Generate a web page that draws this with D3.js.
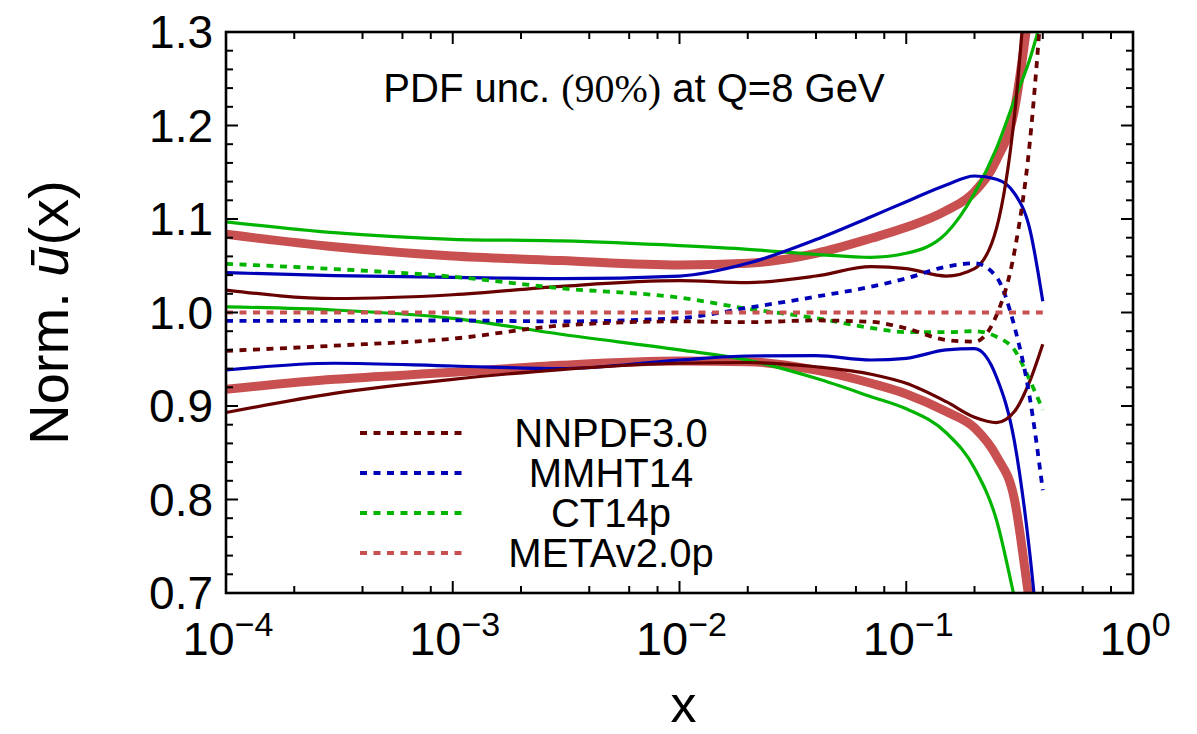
<!DOCTYPE html>
<html>
<head>
<meta charset="utf-8">
<script src="https://cdn.jsdelivr.net/npm/d3@7"></script>
<style>
    body { margin: 0; background: #fff; }
    text { font-family: "Liberation Sans", Arial, Helvetica, sans-serif; fill: #000; }
</style>
</head>
<body>
<div id="chart"></div>
<script>
// x grid shared by every curve
const xGrid = [1e-4, 3e-4, 1e-3, 3e-3, 0.01, 0.02, 0.04, 0.07, 0.1, 0.15, 0.2, 0.25, 0.3, 0.35, 0.4];

// NNPDF3.0
const nnpdfUpper   = [1.024, 1.015, 1.019, 1.028, 1.034, 1.032, 1.039, 1.049, 1.047, 1.039, 1.047, 1.090, 1.210, 1.40, 1.55];
const nnpdfCentral = [0.959, 0.9645, 0.972, 0.986, 0.9905, 0.9896, 0.9915, 0.990, 0.983, 0.9706, 0.9688, 0.997, 1.065, 1.18, 1.35];
const nnpdfLower   = [0.893, 0.9135, 0.9285, 0.939, 0.9457, 0.9465, 0.942, 0.934, 0.9243, 0.9046, 0.8879, 0.8822, 0.894, 0.926, 0.966];

// MMHT14
const mmhtUpper   = [1.0426, 1.0394, 1.0376, 1.0362, 1.039, 1.0526, 1.078, 1.1025, 1.1185, 1.1364, 1.146, 1.1425, 1.1275, 1.09, 1.012];
const mmhtCentral = [0.991, 0.991, 0.9915, 0.9905, 0.994, 1.0050, 1.017, 1.0276, 1.0365, 1.049, 1.0526, 1.038, 0.985, 0.91, 0.81];
const mmhtLower   = [0.9385, 0.9457, 0.9428, 0.940, 0.9492, 0.9535, 0.9538, 0.9492, 0.951, 0.960, 0.9613, 0.931, 0.862, 0.744, 0.60];

// CT14p
const ct14Upper   = [1.097, 1.0854, 1.0783, 1.0765, 1.0715, 1.0676, 1.0622, 1.059, 1.0633, 1.0847, 1.1275, 1.1756, 1.2273, 1.2704, 1.319];
const ct14Central = [1.052, 1.0465, 1.0383, 1.0259, 1.0159, 1.004, 0.994, 0.9835, 0.979, 0.979, 0.980, 0.974, 0.960, 0.928, 0.896];
const ct14Lower   = [1.006, 1.0027, 0.9938, 0.9767, 0.960, 0.9492, 0.9296, 0.910, 0.897, 0.8714, 0.8334, 0.7781, 0.695, 0.62, 0.55];

// METAv2.0p
const metaUpper   = [1.0836, 1.0704, 1.0604, 1.0555, 1.0508, 1.0526, 1.0633, 1.0794, 1.0911, 1.1089, 1.1292, 1.1631, 1.2166, 1.33, 1.45];
const metaCentral = [1, 1, 1, 1, 1, 1, 1, 1, 1, 1, 1, 1, 1, 1, 1];
const metaLower   = [0.918, 0.9285, 0.936, 0.9435, 0.9481, 0.9474, 0.9383, 0.9243, 0.9129, 0.894, 0.8767, 0.8463, 0.800, 0.69, 0.60];

const legendNames = ["NNPDF3.0", "MMHT14", "CT14p", "METAv2.0p"];
const xTickExps = [-4, -3, -2, -1, 0];
const yTickValues = [0.7, 0.8, 0.9, 1.0, 1.1, 1.2, 1.3];

const colors = {
    nnpdf: "#680000",
    mmht: "#0000b8",
    ct14: "#00b400",
    meta: "#c85050"
};

// Set dimensions
const width = 1197;
const height = 734;
const margin = { top: 32, right: 64, bottom: 141, left: 226 };

const svg = d3.select("#chart")
    .append("svg")
    .attr("width", width)
    .attr("height", height);

svg.append("rect").attr("width", width).attr("height", height).attr("fill", "#fff");

const x = d3.scaleLog()
    .domain([1e-4, 1])
    .range([margin.left, width - margin.right]);

const y = d3.scaleLinear()
    .domain([0.7, 1.3])
    .range([height - margin.bottom, margin.top]);

// Clip curves to the frame
svg.append("clipPath")
    .attr("id", "plot-clip")
    .append("rect")
    .attr("x", x.range()[0])
    .attr("y", y.range()[1])
    .attr("width", x.range()[1] - x.range()[0])
    .attr("height", y.range()[0] - y.range()[1]);

const line = d3.line()
    .x((d, i) => x(xGrid[i]))
    .y(d => y(d))
    .curve(d3.curveMonotoneX);

const plot = svg.append("g").attr("clip-path", "url(#plot-clip)");

// Bands (solid) - META thick first so the others sit on top
const solidCurves = [
    { data: metaUpper, color: colors.meta, w: 9 },
    { data: metaLower, color: colors.meta, w: 9 },
    { data: ct14Upper, color: colors.ct14, w: 3.2 },
    { data: ct14Lower, color: colors.ct14, w: 3.2 },
    { data: mmhtUpper, color: colors.mmht, w: 3.2 },
    { data: mmhtLower, color: colors.mmht, w: 3.2 },
    { data: nnpdfUpper, color: colors.nnpdf, w: 3.2 },
    { data: nnpdfLower, color: colors.nnpdf, w: 3.2 }
];

plot.selectAll(".band")
    .data(solidCurves)
    .enter()
    .append("path")
    .attr("class", "band")
    .attr("d", d => line(d.data))
    .attr("fill", "none")
    .attr("stroke", d => d.color)
    .attr("stroke-width", d => d.w);

// Central values (dashed)
const dashedCurves = [
    { data: ct14Central, color: colors.ct14 },
    { data: mmhtCentral, color: colors.mmht },
    { data: nnpdfCentral, color: colors.nnpdf },
    { data: metaCentral, color: colors.meta }
];

plot.selectAll(".central")
    .data(dashedCurves)
    .enter()
    .append("path")
    .attr("class", "central")
    .attr("d", d => line(d.data))
    .attr("fill", "none")
    .attr("stroke", d => d.color)
    .attr("stroke-width", 3.8)
    .attr("stroke-dasharray", "7,6.5");

// Ticks on all four sides, pointing inward
const x0 = x.range()[0], x1 = x.range()[1];
const y0 = y.range()[0], y1 = y.range()[1];
const ticks = svg.append("g").attr("stroke", "#000").attr("stroke-width", 2);

const xMinor = [];
xTickExps.slice(0, -1).forEach(e => [2, 4, 6, 8].forEach(m => xMinor.push(m * Math.pow(10, e))));
const xMajor = xTickExps.map(e => Math.pow(10, e));

[[xMajor, 12], [xMinor, 7]].forEach(([vals, len]) => {
    vals.forEach(v => {
        ticks.append("line").attr("x1", x(v)).attr("x2", x(v)).attr("y1", y0).attr("y2", y0 - len);
        ticks.append("line").attr("x1", x(v)).attr("x2", x(v)).attr("y1", y1).attr("y2", y1 + len);
    });
});

const yMinor = d3.range(0, 31).map(i => 0.7 + i * 0.02).filter((v, i) => i % 5 !== 0);
[[yTickValues, 12], [yMinor, 7]].forEach(([vals, len]) => {
    vals.forEach(v => {
        ticks.append("line").attr("x1", x0).attr("x2", x0 + len).attr("y1", y(v)).attr("y2", y(v));
        ticks.append("line").attr("x1", x1).attr("x2", x1 - len).attr("y1", y(v)).attr("y2", y(v));
    });
});

// Frame
svg.append("rect")
    .attr("x", x0)
    .attr("y", y1)
    .attr("width", x1 - x0)
    .attr("height", y0 - y1)
    .attr("fill", "none")
    .attr("stroke", "#000")
    .attr("stroke-width", 2.6);

// Y tick labels
svg.selectAll(".ylab")
    .data(yTickValues)
    .enter()
    .append("text")
    .attr("class", "ylab")
    .attr("x", x0 - 13)
    .attr("y", d => y(d) + 16)
    .attr("text-anchor", "end")
    .style("font-size", "46px")
    .text(d => d.toFixed(1));

// X tick labels: 10^n
const xlab = svg.selectAll(".xlab")
    .data(xTickExps)
    .enter()
    .append("text")
    .attr("class", "xlab")
    .attr("x", d => x(Math.pow(10, d)) + 2)
    .attr("y", 655)
    .attr("text-anchor", "middle")
    .style("font-size", "47px");

xlab.append("tspan").text("10");
xlab.append("tspan")
    .attr("dy", -19)
    .style("font-size", "34px")
    .text(d => d < 0 ? "\u2212" + Math.abs(d) : String(d));

// Axis titles
svg.append("text")
    .attr("x", (x0 + x1) / 2 + 4)
    .attr("y", 722)
    .attr("text-anchor", "middle")
    .style("font-size", "52px")
    .text("x");

const ytitle = svg.append("text")
    .attr("transform", `translate(68, ${(y0 + y1) / 2}) rotate(-90)`)
    .attr("text-anchor", "middle")
    .style("font-size", "56px");
ytitle.append("tspan").text("Norm. ");
ytitle.append("tspan").style("font-style", "italic").text("\u016B");
ytitle.append("tspan").text("(x)");

// Annotation
const note = svg.append("text")
    .attr("x", 634)
    .attr("y", 102)
    .attr("text-anchor", "middle")
    .style("font-size", "40px");
note.append("tspan").text("PDF unc. ");
note.append("tspan").style("font-family", "'Liberation Serif', 'Times New Roman', serif").text("(90%)");
note.append("tspan").text(" at Q=8 GeV");

// Legend
const legend = svg.append("g").attr("class", "legend");
const legendColors = [colors.nnpdf, colors.mmht, colors.ct14, colors.meta];
const legendY = d3.scalePoint().domain(legendNames).range([433, 553]);

legend.selectAll("line")
    .data(legendNames)
    .enter()
    .append("line")
    .attr("x1", 360)
    .attr("x2", 468)
    .attr("y1", d => legendY(d))
    .attr("y2", d => legendY(d))
    .attr("stroke", (d, i) => legendColors[i])
    .attr("stroke-width", 3.8)
    .attr("stroke-dasharray", "7,6.5");

legend.selectAll("text")
    .data(legendNames)
    .enter()
    .append("text")
    .attr("x", 611)
    .attr("y", d => legendY(d) + 14)
    .attr("text-anchor", "middle")
    .style("font-size", "40px")
    .text(d => d);
</script>
</body>
</html>
